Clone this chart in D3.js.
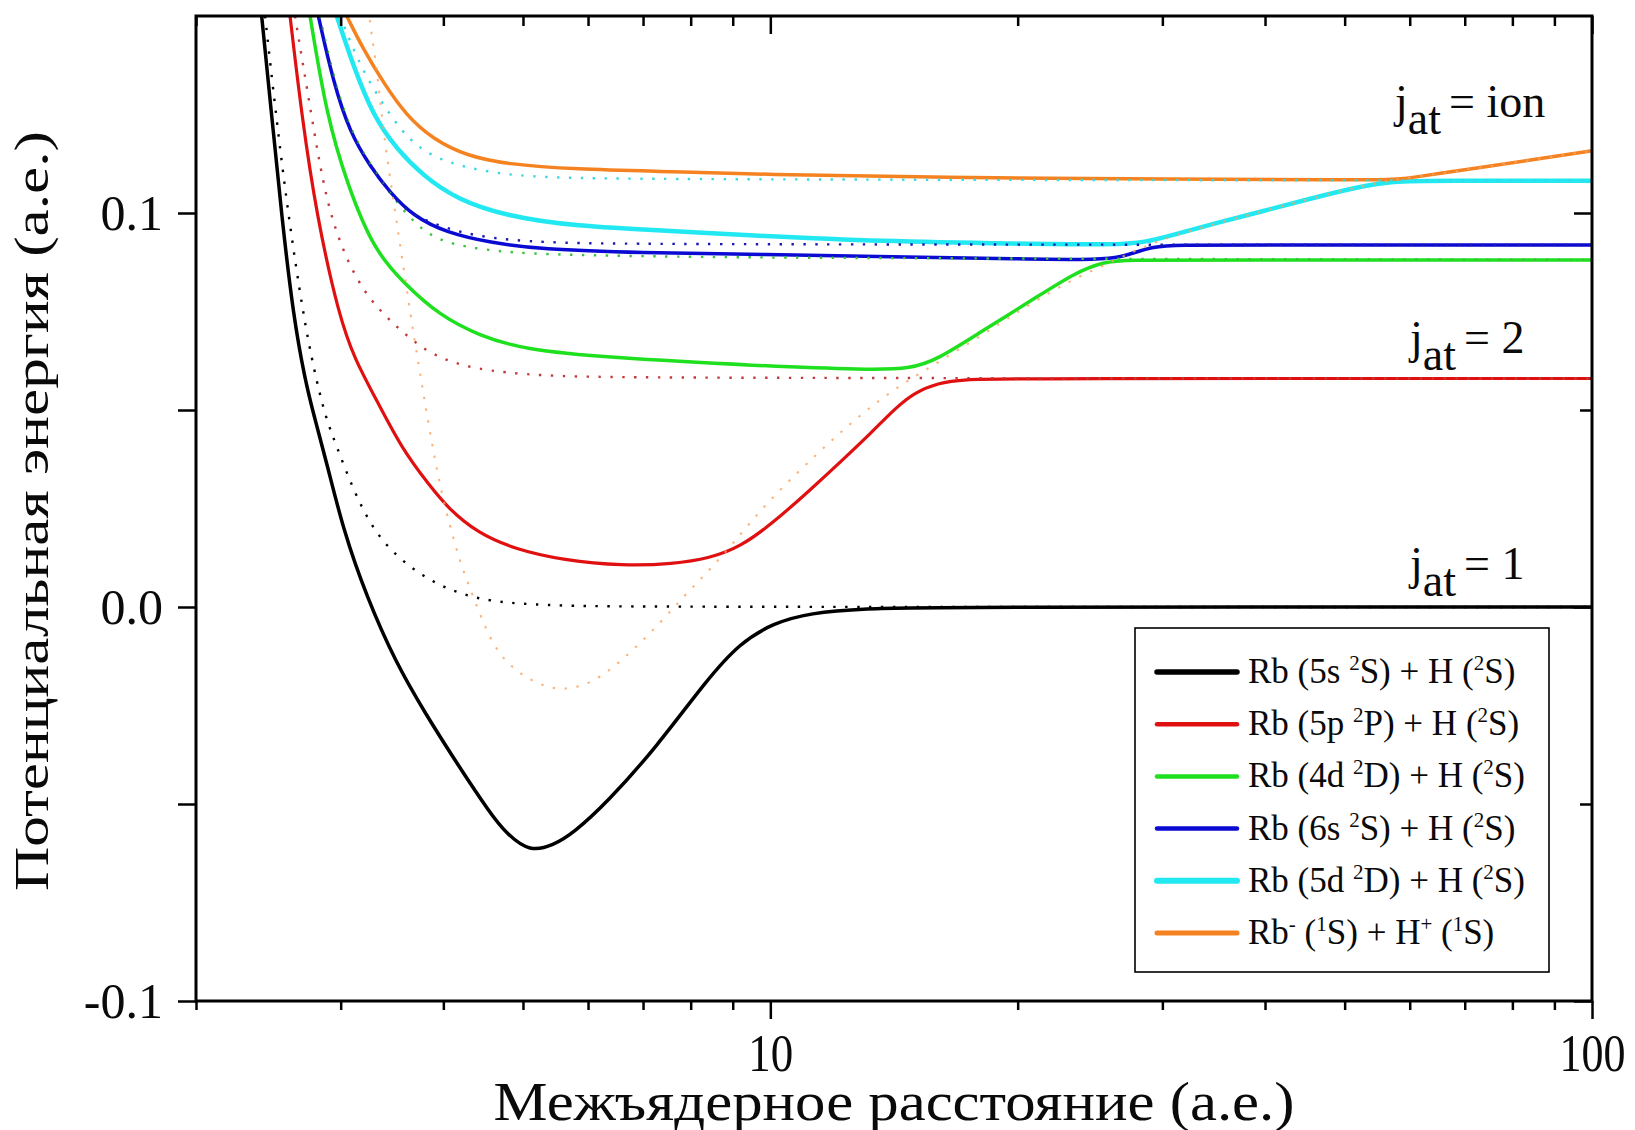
<!DOCTYPE html>
<html>
  <head>
    <title>Потенциальные кривые Rb + H</title>
    <meta charset="UTF-8" />
    <style>
      body { margin: 0; background: #fff; }
      svg text { font-family: "Liberation Serif", "Times New Roman", serif; fill: #0a0a0a; }
    </style>
  </head>
  <body>
    <script src="https://cdn.jsdelivr.net/npm/d3@7/dist/d3.min.js"></script>
    <script>
      // adiabatic curves, [R (a.e.), E (a.e.)]
      var blackSolid = [[2.404,0.15],[2.473,0.1246],[2.543,0.0992],[2.627,0.0739],[2.715,0.0576],[2.784,0.0485],
        [2.885,0.0366],[3.022,0.0195],[3.227,0.0025],[3.502,-0.0142],[3.800,-0.0269],[4.152,-0.0396],[4.558,-0.0523],
        [4.777,-0.0576],[5.099,-0.0622],[5.443,-0.0605],[5.757,-0.0574],[6.323,-0.0497],[7.273,-0.0355],
        [8.367,-0.0185],[9.186,-0.0091],[10.08,-0.0041],[11.18,-0.0015],[13,-0.0004],[16,0],[100,0]];
      var redSolid = [[2.603,0.15],[2.690,0.1246],[2.805,0.0992],[2.985,0.0739],[3.123,0.0627],[3.312,0.0528],
        [3.562,0.0401],[3.853,0.0307],[4.041,0.0254],[4.395,0.0188],[4.917,0.0145],[5.594,0.0119],[6.618,0.0104],
        [7.612,0.0109],[8.446,0.0124],[9.186,0.0152],[10.07,0.0213],[11.18,0.0297],[12.2,0.037],[13.3,0.0444],
        [14.2,0.0505],[15.0,0.0545],[16.0,0.0568],[17.1,0.0578],[20,0.058],[100,0.058]];
      var greenSolid = [[2.753,0.15],[2.885,0.1246],[3.051,0.1077],[3.287,0.0908],[3.576,0.0823],[3.963,0.0739],
        [4.434,0.0688],[5.005,0.0654],[6.322,0.0633],[9.716,0.0612],[13.1,0.0602],[14.8,0.0604],[16.0,0.0629],
        [18.0,0.0697],[20.9,0.0781],[23.5,0.0849],[25.5,0.0876],[27,0.0881],[35,0.0881],[100,0.0881]];
      var blueSolid = [[2.818,0.15],[2.939,0.1331],[3.079,0.1204],[3.257,0.1119],[3.444,0.1052],[3.678,0.0992],
        [4.037,0.095],[4.559,0.0925],[5.245,0.0908],[6.941,0.0899],[9.716,0.0895],[15,0.0888],[20,0.0884],
        [24.3,0.0881],[26.4,0.0885],[27.8,0.0900],[29.2,0.0914],[31,0.0919],[40,0.0919],[100,0.0919]];
      var cyanSolid = [[2.967,0.15],[3.108,0.1373],[3.287,0.1246],[3.510,0.1162],[3.783,0.1094],[4.152,0.1035],
        [4.776,0.0992],[5.758,0.0967],[7.621,0.0954],[9.716,0.0942],[13.6,0.0928],[20,0.0922],[26.4,0.0919],
        [28.5,0.0925],[31,0.0945],[34.8,0.0974],[39.7,0.1004],[45.3,0.1036],[51.6,0.1065],[57.1,0.1081],
        [65,0.1082],[100,0.1082]];
      var orangeSolid = [[3.051,0.15],[3.197,0.1415],[3.381,0.1331],[3.609,0.1246],[3.890,0.1187],[4.271,0.1145],
        [4.776,0.1124],[5.758,0.1111],[7.621,0.1105],[9.716,0.1098],[16,0.109],[31.3,0.1086],[50,0.1084],
        [55,0.1084],[58,0.1086],[61,0.1091],[65,0.11],[72,0.1113],[85,0.1136],[100,0.1158]];

      // diabatic curves (dotted)
      var blackDotted = [[2.427,0.15],[2.503,0.1246],[2.591,0.0992],[2.702,0.0739],[2.784,0.0602],[2.871,0.0485],
        [2.967,0.0407],[3.108,0.0297],[3.287,0.0195],[3.510,0.0128],[3.783,0.0077],[4.074,0.0043],[4.391,0.0022],
        [4.776,0.001],[5.548,0.0003],[7,0],[100,0]];
      var redDotted = [[2.639,0.15],[2.765,0.1246],[2.898,0.0992],[3.138,0.0823],[3.37,0.0745],[3.609,0.0688],
        [3.890,0.0637],[4.351,0.0603],[5.245,0.0586],[7,0.0581],[100,0.058]];
      var greenDotted = [[2.83,0.15],[2.95,0.1331],[3.09,0.1204],[3.27,0.1119],[3.46,0.1045],[3.678,0.0975],
        [3.963,0.0925],[4.559,0.0904],[5.245,0.0895],[7,0.089],[12,0.0885],[100,0.0881]];
      var blueDotted = [[2.818,0.15],[2.939,0.1331],[3.079,0.1204],[3.257,0.1119],[3.444,0.1052],[3.609,0.1001],
        [4.037,0.0959],[4.516,0.0937],[5.245,0.0925],[7,0.092],[100,0.0919]];
      var cyanDotted = [[2.995,0.15],[3.167,0.1373],[3.350,0.1288],[3.543,0.1212],[3.747,0.1162],[4.037,0.1128],
        [4.559,0.1102],[5.245,0.109],[7,0.1085],[100,0.1082]];
      var orangeDotted = [[3.24,0.155],[3.257,0.1475],[3.319,0.1373],[3.381,0.1204],[3.476,0.1035],[3.575,0.0866],
        [3.677,0.0696],[3.764,0.0569],[3.853,0.0442],[3.963,0.0307],[4.037,0.0238],[4.192,0.0111],[4.350,0.0026],
        [4.558,-0.0084],[4.776,-0.0143],[5.099,-0.0187],[5.495,-0.0212],[5.920,-0.0202],[6.322,-0.0168],
        [6.811,-0.0109],[7.339,-0.0041],[7.837,0.0026],[8.367,0.0086],[9.015,0.0162],[9.806,0.0255],[10.87,0.0348],
        [11.9,0.0425],[13.0,0.0495],[14.2,0.0555],[15.4,0.06],[17,0.0655],[19,0.0718],[21,0.0777],[23.5,0.0835],
        [26.4,0.0882],[28.5,0.0915],[31,0.0943],[34.8,0.0973],[39.7,0.1004],[45.3,0.1036],[51.6,0.1065],
        [57,0.1084],[65,0.11],[72,0.1113],[85,0.1136],[100,0.1158]];

      var colours = ["#000000", "#e01010", "#1ee01e", "#0a0ad2", "#22e8f2", "#f58220"];
      var dotColours = ["#000000", "#c23a3a", "#3cc23c", "#1a1ab0", "#3ad8e0", "#f7a463"];
      var legendLabels = [
        [["Rb (5s ", 0], ["2", 1], ["S) + H (", 0], ["2", 1], ["S)", 0]],
        [["Rb (5p ", 0], ["2", 1], ["P) + H (", 0], ["2", 1], ["S)", 0]],
        [["Rb (4d ", 0], ["2", 1], ["D) + H (", 0], ["2", 1], ["S)", 0]],
        [["Rb (6s ", 0], ["2", 1], ["S) + H (", 0], ["2", 1], ["S)", 0]],
        [["Rb (5d ", 0], ["2", 1], ["D) + H (", 0], ["2", 1], ["S)", 0]],
        [["Rb", 0], ["-", 1], [" (", 0], ["1", 1], ["S) + H", 0], ["+", 1], [" (", 0], ["1", 1], ["S)", 0]]
      ];
      var levelLabels = ["ion", "2", "1"];
      var levelY = [0.1243, 0.0645, 0.0070];
      var xMajor = [10, 100];
      var xMinor = [2, 3, 4, 5, 6, 7, 8, 9, 20, 30, 40, 50, 60, 70, 80, 90];
      var yMajor = [-0.1, 0.0, 0.1];
      var yMinor = [-0.05, 0.05];

      var solids = [blackSolid, redSolid, greenSolid, blueSolid, cyanSolid, orangeSolid];
      var dotted = [blackDotted, redDotted, greenDotted, blueDotted, cyanDotted, orangeDotted];
      var solidWidths = [3.5, 3.2, 3.5, 3.5, 4.5, 3.5];
      var legendWidths = [5.5, 4.5, 4.5, 4.5, 6, 5];

      var width = 1635, height = 1130;
      var plotL = 196, plotR = 1592, plotT = 16, plotB = 1001;

      var svg = d3.select("body").append("svg")
        .attr("width", width)
        .attr("height", height);

      var x = d3.scaleLog().domain([2, 100]).range([plotL, plotR]);
      var y = d3.scaleLinear().domain([-0.1, 0.15]).range([plotB, plotT]);

      svg.append("clipPath").attr("id", "plot")
        .append("rect").attr("x", plotL).attr("y", plotT)
        .attr("width", plotR - plotL).attr("height", plotB - plotT);

      // B-spline smooths out small reading errors between points
      var line = d3.line()
        .x(function(d) { return x(d[0]); })
        .y(function(d) { return y(d[1]); })
        .curve(d3.curveBasis);

      var curves = svg.append("g").attr("clip-path", "url(#plot)");

      // solid curves
      curves.selectAll("path.solid")
        .data(solids)
        .enter().append("path")
        .attr("class", "solid")
        .attr("d", line)
        .attr("fill", "none")
        .attr("stroke", function(d, i) { return colours[i]; })
        .attr("stroke-width", function(d, i) { return solidWidths[i]; });

      // dotted curves on top
      curves.selectAll("path.dot")
        .data(dotted)
        .enter().append("path")
        .attr("class", "dot")
        .attr("d", line)
        .attr("fill", "none")
        .attr("stroke", function(d, i) { return dotColours[i]; })
        .attr("stroke-opacity", function(d, i) { return i == 5 ? 0.85 : 1; })
        .attr("stroke-width", function(d, i) { return i == 5 ? 2 : 2.4; })
        .attr("stroke-dasharray", "2.4 9.5");

      // axes: ticks outward on left/bottom, inward on top/right
      function styleAxis(g) {
        g.select(".domain").remove();
        g.selectAll("line").attr("stroke", "#000").attr("stroke-width", 2.5);
      }

      svg.append("g").attr("transform", "translate(0," + plotB + ")")
        .call(d3.axisBottom(x).tickValues(xMinor).tickSize(9).tickFormat(""))
        .call(styleAxis);
      var xAx = svg.append("g").attr("transform", "translate(0," + plotB + ")")
        .call(d3.axisBottom(x).tickValues(xMajor).tickSize(18).tickPadding(14).tickFormat(d3.format("d")))
        .call(styleAxis);
      xAx.selectAll("text")
        .attr("font-size", 53)
        .attr("textLength", function(d) { return d == 10 ? 45 : 66; })
        .attr("lengthAdjust", "spacingAndGlyphs");

      svg.append("g").attr("transform", "translate(0," + plotT + ")")
        .call(d3.axisBottom(x).tickValues(xMinor).tickSize(10).tickFormat(""))
        .call(styleAxis);
      svg.append("g").attr("transform", "translate(0," + plotT + ")")
        .call(d3.axisBottom(x).tickValues(xMajor).tickSize(18).tickFormat(""))
        .call(styleAxis);

      var yAx = svg.append("g").attr("transform", "translate(" + plotL + ",0)")
        .call(d3.axisLeft(y).tickValues(yMajor.concat(yMinor)).tickSize(18).tickPadding(15)
          .tickFormat(function(d) { return yMajor.indexOf(d) >= 0 ? d3.format(".1f")(d).replace("−", "-") : ""; }))
        .call(styleAxis);
      yAx.selectAll("text").attr("font-size", 50);

      svg.append("g").attr("transform", "translate(" + plotR + ",0)")
        .call(d3.axisLeft(y).tickValues(yMajor).tickSize(18).tickFormat(""))
        .call(styleAxis);
      svg.append("g").attr("transform", "translate(" + plotR + ",0)")
        .call(d3.axisLeft(y).tickValues(yMinor).tickSize(12).tickFormat(""))
        .call(styleAxis);

      // frame
      svg.append("rect")
        .attr("x", plotL).attr("y", plotT)
        .attr("width", plotR - plotL).attr("height", plotB - plotT)
        .attr("fill", "none").attr("stroke", "#000").attr("stroke-width", 3);

      // axis titles
      svg.append("text")
        .attr("x", 894).attr("y", 1120)
        .attr("text-anchor", "middle")
        .attr("font-size", 55)
        .attr("textLength", 801).attr("lengthAdjust", "spacingAndGlyphs")
        .text("Межъядерное расстояние (а.е.)");

      svg.append("text")
        .attr("transform", "translate(48,511) rotate(-90)")
        .attr("text-anchor", "middle")
        .attr("font-size", 49)
        .attr("textLength", 760).attr("lengthAdjust", "spacingAndGlyphs")
        .text("Потенциальная энергия (а.е.)");

      // j_at labels
      var lab = svg.selectAll("text.level")
        .data(levelLabels)
        .enter().append("text")
        .attr("class", "level")
        .attr("x", function(d, i) { return i == 0 ? 1395 : 1410; })
        .attr("y", function(d, i) { return y(levelY[i]); })
        .attr("font-size", 46);
      lab.append("tspan").text("j");
      lab.append("tspan").attr("dy", 17).text("at");
      lab.append("tspan").attr("dy", -17).attr("dx", 8).text(function(d) { return "= " + d; });

      // legend
      var leg = svg.append("g");
      leg.append("rect")
        .attr("x", 1135).attr("y", 628)
        .attr("width", 414).attr("height", 344)
        .attr("fill", "#fff").attr("stroke", "#000").attr("stroke-width", 1.6);

      var rows = leg.selectAll("g.row")
        .data(legendLabels)
        .enter().append("g")
        .attr("class", "row")
        .attr("transform", function(d, i) { return "translate(0," + (672 + i * 52.2) + ")"; });

      rows.append("line")
        .attr("x1", 1157).attr("x2", 1237)
        .attr("stroke", function(d, i) { return colours[i]; })
        .attr("stroke-width", function(d, i) { return legendWidths[i]; })
        .attr("stroke-linecap", "round");

      var txt = rows.append("text")
        .attr("x", 1248).attr("y", 11)
        .attr("font-size", 35);
      txt.selectAll("tspan")
        .data(function(d) { return d; })
        .enter().append("tspan")
        .attr("font-size", function(d) { return d[1] ? 21 : 35; })
        .attr("dy", function(d, i, nodes) {
          var prev = i > 0 ? d3.select(nodes[i - 1]).datum()[1] : 0;
          return (d[1] - prev) * -13;
        })
        .text(function(d) { return d[0]; });
    </script>
  </body>
</html>
